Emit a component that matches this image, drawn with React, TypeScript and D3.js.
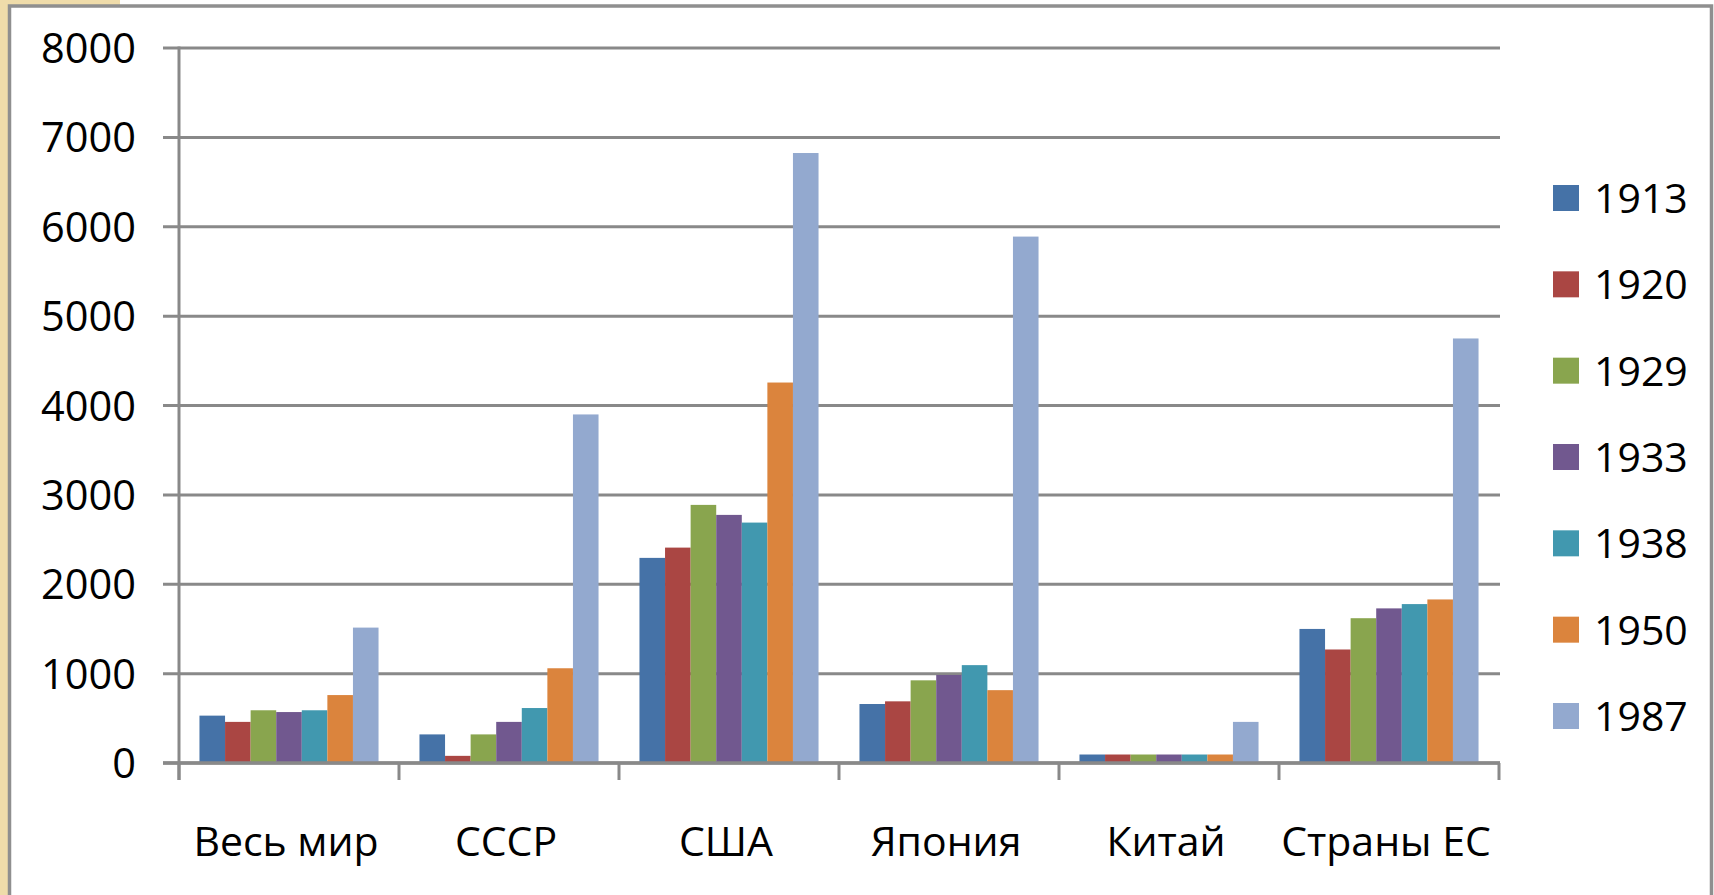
import React from "react";
import * as d3 from "d3";

const categories = ["Весь мир", "СССР", "США", "Япония", "Китай", "Страны ЕС"];
const years = ["1913", "1920", "1929", "1933", "1938", "1950", "1987"];
const colors = ["#4572A7", "#AA4643", "#89A54E", "#71588F", "#4198AF", "#DB843D", "#93A9CF"];

const v1913 = [530, 320, 2295, 660, 95, 1500];
const v1920 = [460, 80, 2410, 690, 95, 1270];
const v1929 = [590, 320, 2888, 925, 95, 1620];
const v1933 = [570, 460, 2776, 985, 95, 1730];
const v1938 = [590, 615, 2690, 1095, 95, 1778];
const v1950 = [760, 1060, 4257, 815, 95, 1830];
const v1987 = [1515, 3900, 6825, 5890, 460, 4750];
const series = [v1913, v1920, v1929, v1933, v1938, v1950, v1987];

const yTicks = [0, 1000, 2000, 3000, 4000, 5000, 6000, 7000, 8000];

const W = 1714;
const H = 895;
const FONT = "'Open Sans', 'Noto Sans', sans-serif";
const GRID = "#898989";

export default function App() {
  const x0 = d3.scaleBand<string>().domain(categories).range([179, 1499]).paddingInner(0).paddingOuter(0);
  const x1 = d3.scaleBand<string>().domain(years).range([0, x0.bandwidth()]).paddingInner(0).paddingOuter(0.8);
  const y = d3.scaleLinear().domain([0, 8000]).range([763, 48]);
  const legendY = d3.scalePoint<string>().domain(years).range([198, 716]);

  return (
    <svg width={W} height={H} style={{ position: "fixed", left: 0, top: 0, background: "#fff" }}>
      <rect x={0} y={0} width={W} height={H} fill="#ffffff" />
      {/* beige backdrop strips */}
      <rect x={0} y={0} width={8} height={H} fill="#efdcaa" />
      <rect x={0} y={0} width={120} height={5} fill="#efdcaa" />
      {/* frame */}
      <rect x={9.5} y={6} width={1702} height={H + 10} fill="#ffffff" stroke="#8f8f8f" strokeWidth={3.5} />

      {/* gridlines */}
      {yTicks.map((t) => (
        <line key={"g" + t} x1={163} x2={1500} y1={y(t)} y2={y(t)} stroke={GRID} strokeWidth={3} />
      ))}

      {/* bars */}
      {categories.map((c, ci) => (
        <g key={c}>
          {years.map((yr, si) => (
            <rect
              key={yr}
              x={(x0(c) as number) + (x1(yr) as number)}
              y={y(series[si][ci])}
              width={x1.bandwidth()}
              height={y(0) - y(series[si][ci])}
              fill={colors[si]}
            />
          ))}
        </g>
      ))}

      {/* axes */}
      <line x1={179} x2={179} y1={y(8000) - 1.5} y2={780} stroke={GRID} strokeWidth={3} />
      <line x1={163} x2={1500} y1={y(0)} y2={y(0)} stroke={GRID} strokeWidth={3.5} />
      {categories.map((c) => (
        <line key={"t" + c} x1={(x0(c) as number)} x2={(x0(c) as number)} y1={y(0)} y2={780} stroke={GRID} strokeWidth={3} />
      ))}
      <line x1={1499} x2={1499} y1={y(0)} y2={780} stroke={GRID} strokeWidth={3} />

      {/* y tick labels */}
      {yTicks.map((t) => (
        <text key={"l" + t} x={136} y={y(t) + 15} textAnchor="end" fontFamily={FONT} fontSize={41.5} fill="#000">
          {t}
        </text>
      ))}

      {/* category labels */}
      {categories.map((c) => (
        <text
          key={"c" + c}
          x={(x0(c) as number) + x0.bandwidth() / 2 - 3}
          y={856}
          textAnchor="middle"
          fontFamily={FONT}
          fontSize={41}
          fill="#000"
        >
          {c}
        </text>
      ))}

      {/* legend */}
      {years.map((yr, i) => (
        <g key={"lg" + yr}>
          <rect x={1553} y={(legendY(yr) as number) - 13} width={26} height={26} fill={colors[i]} />
          <text x={1594} y={(legendY(yr) as number) + 15} fontFamily={FONT} fontSize={41} fill="#000">
            {yr}
          </text>
        </g>
      ))}
    </svg>
  );
}
